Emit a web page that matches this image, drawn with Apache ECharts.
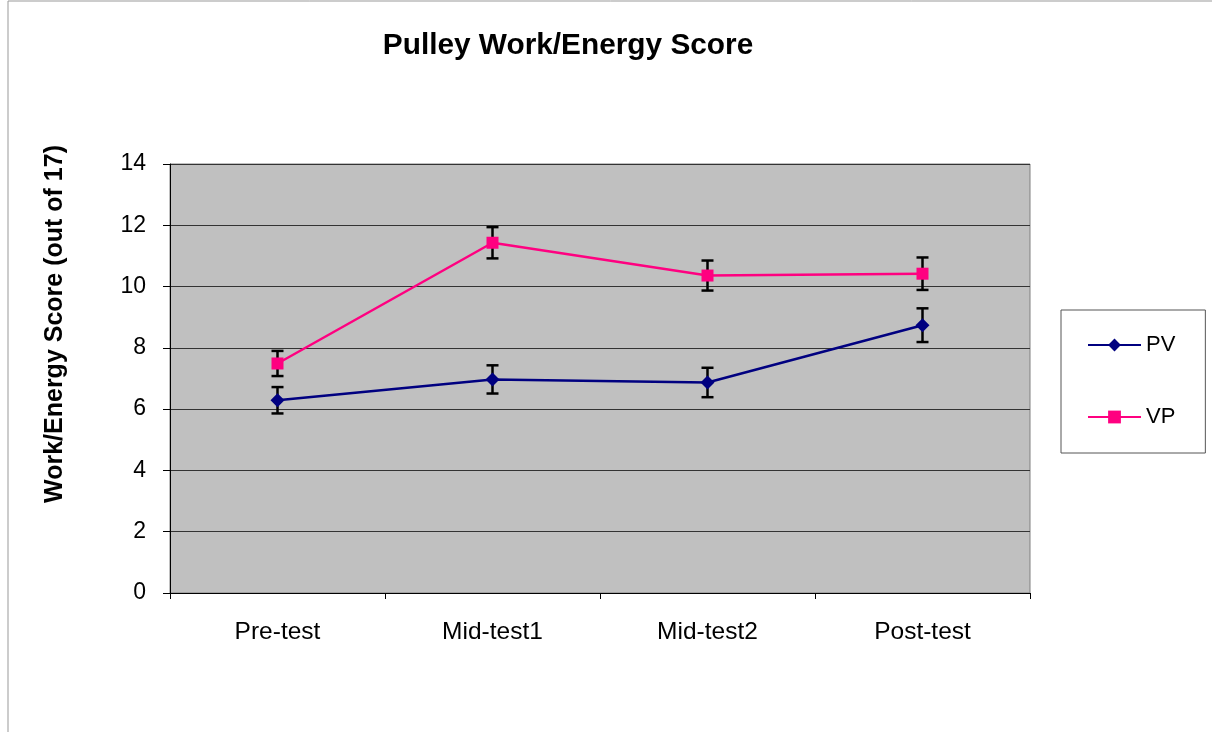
<!DOCTYPE html>
<html>
<head>
<meta charset="utf-8">
<script src="https://cdn.jsdelivr.net/npm/echarts@6/dist/echarts.min.js"></script>
<style>
  html, body { margin: 0; padding: 0; background: #fff; }
  #chart { width: 1212px; height: 732px; }
</style>
</head>
<body>
<div id="chart"></div>
<script>
// categories and values
var categories = ['Pre-test', 'Mid-test1', 'Mid-test2', 'Post-test'];
var pvValues = [6.29, 6.97, 6.87, 8.74];
var pvErrors = [0.43, 0.46, 0.48, 0.55];
var vpValues = [7.49, 11.43, 10.36, 10.42];
var vpErrors = [0.41, 0.51, 0.49, 0.53];
var yTicks = { min: 0, max: 14, interval: 2 };

var PV_COLOR = '#000080';
var VP_COLOR = '#ff0080';
var FONT = '"Liberation Sans", Arial, sans-serif';

// [index, low, high] for the whisker series
function errData(vals, errs) {
	return vals.map(function (v, i) {
		return [i, v - errs[i], v + errs[i]];
	});
}

// draws one whisker with caps
function renderErr(params, api) {
	var x = api.value(0);
	var lo = api.coord([x, api.value(1)]);
	var hi = api.coord([x, api.value(2)]);
	var cap = 6;
	var style = { stroke: '#000', lineWidth: 2.5 };
	return {
		type: 'group',
		children: [
			{ type: 'line', shape: { x1: hi[0], y1: hi[1], x2: lo[0], y2: lo[1] }, style: style },
			{ type: 'line', shape: { x1: hi[0] - cap, y1: hi[1], x2: hi[0] + cap, y2: hi[1] }, style: style },
			{ type: 'line', shape: { x1: lo[0] - cap, y1: lo[1], x2: lo[0] + cap, y2: lo[1] }, style: style },
		],
	};
}

var chart = echarts.init(document.getElementById('chart'));
chart.setOption({
	animation: false,
	textStyle: { fontFamily: FONT },
	title: {
		text: 'Pulley Work/Energy Score',
		left: 563,
		top: 26,
		textAlign: 'center',
		textStyle: { fontSize: 29.8, fontWeight: 'bold', color: '#000', fontFamily: FONT },
	},
	graphic: [
		{
			type: 'rect',
			shape: { x: 8, y: 1, width: 1300, height: 800 },
			style: { fill: 'none', stroke: '#999', lineWidth: 1 },
			silent: true,
			z: -10,
		},
		{
			// y axis title, sits above the plot centre like in the picture
			type: 'text',
			x: 55,
			y: 324,
			rotation: Math.PI / 2,
			style: {
				text: 'Work/Energy Score (out of 17)',
				font: 'bold 25px ' + FONT,
				fill: '#000',
				align: 'center',
				verticalAlign: 'middle',
			},
			silent: true,
		},
	],
	grid: {
		left: 170,
		right: 182,
		top: 164,
		bottom: 139,
		show: true,
		backgroundColor: '#c0c0c0',
		borderColor: '#808080',
		borderWidth: 1,
	},
	legend: {
		orient: 'vertical',
		left: 1061,
		top: 310,
		padding: [24, 30, 25, 26],
		itemGap: 50,
		itemWidth: 53,
		itemHeight: 16,
		borderColor: '#555',
		borderWidth: 1,
		textStyle: { fontSize: 22, color: '#000', fontFamily: FONT },
		data: ['PV', 'VP'],
	},
	xAxis: {
		type: 'category',
		data: categories,
		boundaryGap: true,
		axisLine: { lineStyle: { color: '#000', width: 1 } },
		axisTick: { show: true, length: 6, lineStyle: { color: '#000' } },
		axisLabel: { color: '#000', fontSize: 24.5, margin: 27, fontFamily: FONT },
		splitLine: { show: false },
	},
	yAxis: {
		type: 'value',
		min: yTicks.min,
		max: yTicks.max,
		interval: yTicks.interval,
		axisLine: { show: true, lineStyle: { color: '#000', width: 1 } },
		axisTick: { show: true, length: 7, lineStyle: { color: '#000' } },
		axisLabel: { color: '#000', fontSize: 23, margin: 24, fontFamily: FONT },
		splitLine: { show: true, lineStyle: { color: '#333', width: 1 } },
	},
	series: [
		{
			name: 'PV',
			type: 'line',
			data: pvValues,
			symbol: 'diamond',
			symbolSize: 14,
			itemStyle: { color: PV_COLOR },
			lineStyle: { color: PV_COLOR, width: 2.5 },
			z: 3,
		},
		{
			name: 'VP',
			type: 'line',
			data: vpValues,
			symbol: 'rect',
			symbolSize: 12,
			itemStyle: { color: VP_COLOR },
			lineStyle: { color: VP_COLOR, width: 2.5 },
			z: 3,
		},
		{
			name: 'PV err',
			type: 'custom',
			renderItem: renderErr,
			data: errData(pvValues, pvErrors),
			encode: { x: 0, y: [1, 2] },
			z: 2,
		},
		{
			name: 'VP err',
			type: 'custom',
			renderItem: renderErr,
			data: errData(vpValues, vpErrors),
			encode: { x: 0, y: [1, 2] },
			z: 2,
		},
	],
});
</script>
</body>
</html>
